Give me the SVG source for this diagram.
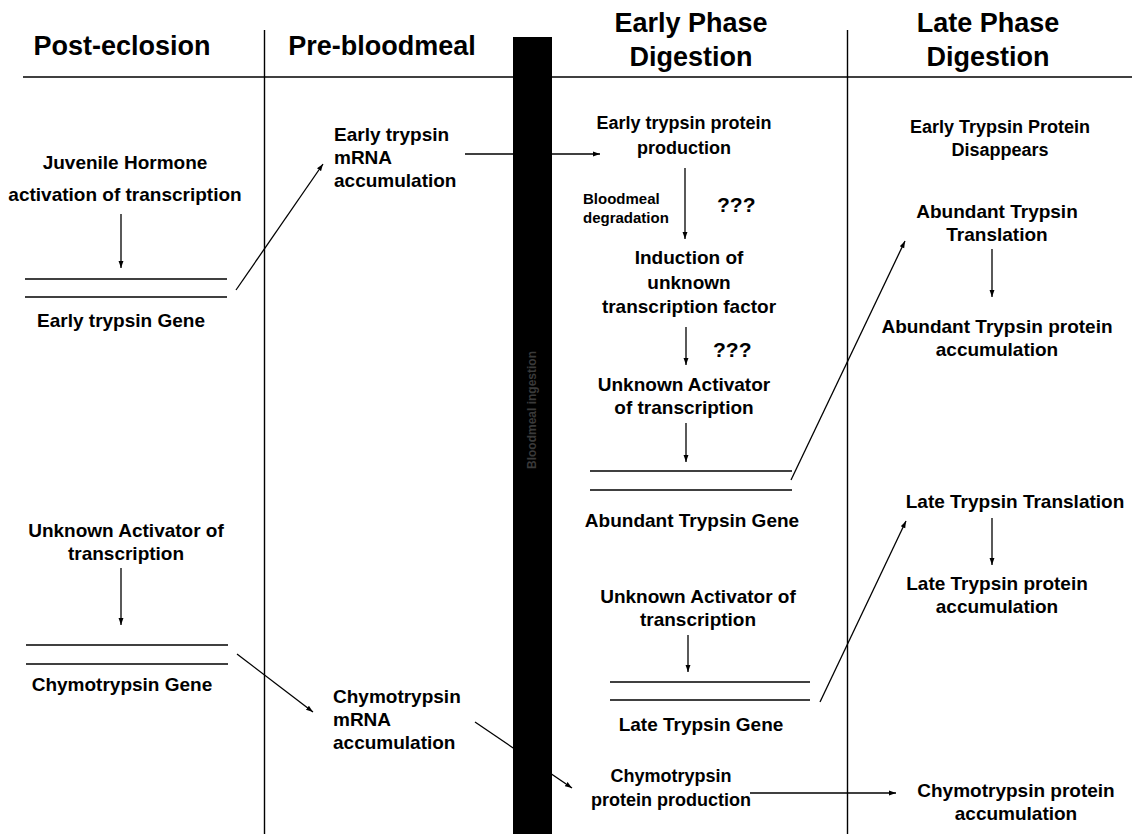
<svg xmlns="http://www.w3.org/2000/svg" width="1136" height="834" viewBox="0 0 1136 834">
<defs>
<marker id="ah" viewBox="0 0 10 10" refX="10" refY="5" markerWidth="7" markerHeight="7" markerUnits="userSpaceOnUse" orient="auto">
<path d="M0,1.5 L10,5 L0,8.5 z" fill="#000"/>
</marker>
<style>
text{font-family:"Liberation Sans",Arial,sans-serif;font-weight:bold;fill:#000}
.h{font-size:27px}
.t{font-size:19px}
.u{font-size:18px}
.m{text-anchor:middle}
.s{font-size:15px}
.q{font-size:21px}
.ln{stroke:#000;stroke-width:1.4;fill:none}
.ar{stroke:#000;stroke-width:1.3;fill:none;marker-end:url(#ah)}
</style>
</defs>
<rect width="1136" height="834" fill="#fff"/>
<g id="frame">
<line class="ln" x1="23" y1="77" x2="1132" y2="77"/>
<line class="ln" x1="264.5" y1="30" x2="264.5" y2="834"/>
<line class="ln" x1="847.5" y1="30" x2="847.5" y2="834"/>
<rect x="513" y="37" width="39" height="797" fill="#000"/>
<text x="532" y="410" transform="rotate(-90 532 410)" text-anchor="middle" style="font-size:12px;fill:#3a3a3a" dy="4">Bloodmeal ingestion</text>
</g>
<g id="headers">
<text class="h m" x="122" y="55">Post-eclosion</text>
<text class="h m" x="382" y="55">Pre-bloodmeal</text>
<text class="h m" x="691" y="32">Early Phase</text>
<text class="h m" x="691" y="66">Digestion</text>
<text class="h m" x="988" y="32">Late Phase</text>
<text class="h m" x="988" y="66">Digestion</text>
</g>
<g id="jh"><text class="t m" x="125" y="169">Juvenile Hormone</text><text class="t m" x="125" y="201">activation of transcription</text></g>
<g id="etgene"><line class="ln" x1="25" y1="279" x2="227" y2="279"/><line class="ln" x1="25" y1="297" x2="227" y2="297"/><text class="t m" x="121" y="327">Early trypsin Gene</text></g>
<g id="etmrna"><text class="t" x="334" y="141">Early trypsin</text><text class="t" x="334" y="164">mRNA</text><text class="t" x="334" y="187">accumulation</text></g>
<g id="etprot"><text class="u m" x="684" y="129">Early trypsin protein</text><text class="u m" x="684" y="154">production</text></g>
<g id="bdeg"><text class="s" x="583" y="204">Bloodmeal</text><text class="s" x="583" y="223">degradation</text><text class="q" x="717" y="212">???</text></g>
<g id="induct"><text class="t m" x="689" y="264">Induction of</text><text class="t m" x="689" y="289">unknown</text><text class="t m" x="689" y="313">transcription factor</text></g>
<g id="q2"><text class="q" x="713" y="357">???</text></g>
<g id="ua1"><text class="t m" x="684" y="391">Unknown Activator</text><text class="t m" x="684" y="414">of transcription</text></g>
<g id="abgene"><line class="ln" x1="590" y1="471" x2="792" y2="471"/><line class="ln" x1="590" y1="490" x2="792" y2="490"/><text class="t m" x="692" y="527">Abundant Trypsin Gene</text></g>
<g id="etdis"><text class="u m" x="1000" y="133">Early Trypsin Protein</text><text class="u m" x="1000" y="156">Disappears</text></g>
<g id="abtrans"><text class="t m" x="997" y="218">Abundant Trypsin</text><text class="t m" x="997" y="241">Translation</text></g>
<g id="abprot"><text class="t m" x="997" y="333">Abundant Trypsin protein</text><text class="t m" x="997" y="356">accumulation</text></g>
<g id="ua2"><text class="t m" x="126" y="537">Unknown Activator of</text><text class="t m" x="126" y="560">transcription</text></g>
<g id="chgene"><line class="ln" x1="26" y1="645" x2="228" y2="645"/><line class="ln" x1="26" y1="664" x2="228" y2="664"/><text class="t m" x="122" y="691">Chymotrypsin Gene</text></g>
<g id="chmrna"><text class="t" x="333" y="703">Chymotrypsin</text><text class="t" x="333" y="726">mRNA</text><text class="t" x="333" y="749">accumulation</text></g>
<g id="ltrans"><text class="t m" x="1015" y="508">Late Trypsin Translation</text></g>
<g id="lprot"><text class="t m" x="997" y="590">Late Trypsin protein</text><text class="t m" x="997" y="613">accumulation</text></g>
<g id="ua3"><text class="t m" x="698" y="603">Unknown Activator of</text><text class="t m" x="698" y="626">transcription</text></g>
<g id="ltgene"><line class="ln" x1="610" y1="682" x2="810" y2="682"/><line class="ln" x1="610" y1="700" x2="810" y2="700"/><text class="t m" x="701" y="731">Late Trypsin Gene</text></g>
<g id="chprot"><text class="u m" x="671" y="782">Chymotrypsin</text><text class="u m" x="671" y="806">protein production</text></g>
<g id="chacc"><text class="t m" x="1016" y="797">Chymotrypsin protein</text><text class="t m" x="1016" y="820">accumulation</text></g>
<g id="connectors">
<line class="ar" x1="121" y1="214" x2="121" y2="268"/>
<line class="ar" x1="236" y1="290" x2="323" y2="164"/>
<line class="ar" x1="465" y1="154" x2="600" y2="154"/>
<line class="ar" x1="685" y1="168" x2="685" y2="239"/>
<line class="ar" x1="686" y1="327" x2="686" y2="365"/>
<line class="ar" x1="686" y1="423" x2="686" y2="462"/>
<line class="ar" x1="791" y1="480" x2="905" y2="241"/>
<line class="ar" x1="992" y1="249" x2="992" y2="297"/>
<line class="ar" x1="121" y1="568" x2="121" y2="625"/>
<line class="ar" x1="237" y1="654" x2="313" y2="712"/>
<line class="ar" x1="475" y1="722" x2="572" y2="788"/>
<line class="ar" x1="750" y1="793" x2="896" y2="793"/>
<line class="ar" x1="992" y1="518" x2="992" y2="565"/>
<line class="ar" x1="688" y1="635" x2="688" y2="672"/>
<line class="ar" x1="820" y1="702" x2="906" y2="521"/>
</g>
</svg>
